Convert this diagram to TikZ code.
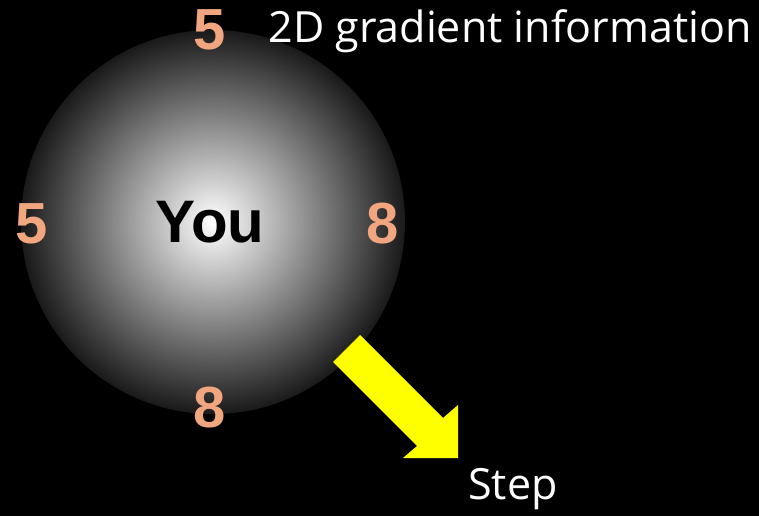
\documentclass[tikz,border=0pt]{standalone}
\usepackage{fontspec}
\setmainfont{Open Sans}
\newfontfamily\digitfont{Liberation Sans}
\usetikzlibrary{positioning}

\definecolor{salmon}{RGB}{242,166,128}
\definecolor{stepyellow}{RGB}{255,255,0}

\begin{document}
\begin{tikzpicture}[
  x=1pt, y=-1pt,
  blob/.style={circle, minimum size=384pt, inner sep=0pt, inner color=white,
               outer color=black!90!white, text=black,
               font=\digitfont\bfseries\fontsize{60}{62}\selectfont},
  score/.style={text=salmon, inner sep=0pt,
                font=\digitfont\bfseries\fontsize{58}{60}\selectfont},
  label/.style={text=white, inner sep=0pt, font=\fontsize{43}{48}\selectfont},
  stepfill/.style={fill=stepyellow, draw=none},
]

%% background
\fill[black] (0,0) rectangle (759,516);
\useasboundingbox (0,0) rectangle (759,516);

%% the blurred position
\node[blob] (you) at (213,222) {\hspace*{-6pt}You};

% neighbouring heights
\node[score] (north) at (210,30)  {5};
\node[score] (west)  at (32,224)  {5};
\node[score] (east)  at (383,224) {8};
\node[score] (south) at (210,408) {8};

% labels
\node[label] (info) at (510,31)  {2D gradient information};
\node[label] (step) at (513,489) {Step};

%% step direction
\fill[stepfill] (333,362) -- (360,335) -- (443,418) -- (458,405)
  -- (458,458) -- (403,458) -- (417,446) -- cycle;

\end{tikzpicture}
\end{document}
